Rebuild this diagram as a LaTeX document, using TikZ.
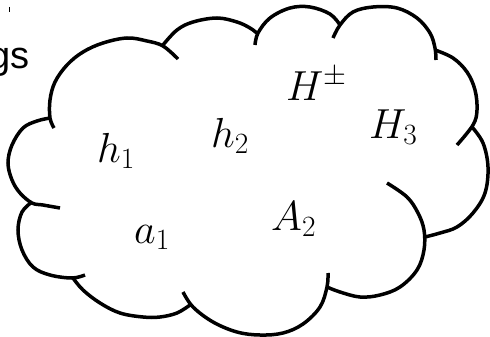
\RequirePackage{fix-cm}
\documentclass[tikz,border=0pt]{standalone}
\usepackage{fontspec}
\newfontfamily\labelsans{Liberation Sans}
\begin{document}
\begin{tikzpicture}[x=1pt,y=-1pt,
  lobe/.style={line width=3.5pt, smooth, tension=0.6},
  mathlabel/.style={anchor=base west, inner sep=0pt, font=\fontsize{42}{50}\selectfont}]
\useasboundingbox (0,0) rectangle (490,337);
% lobes of the cloud
\draw[lobe] plot coordinates {(54,128) (50,118) (50,100) (55,82) (67,65) (83,52) (103,43) (127,38) (147,41) (163,46) (178,59)};
\draw[lobe] plot coordinates {(163,45) (177,30) (193,22) (217,18) (237,22) (250,28) (258,34)};
\draw[lobe] plot coordinates {(255,45) (258,33) (270,18) (290,8) (310,7) (330,14) (340,25)};
\draw[lobe] plot coordinates {(333,38) (340,25) (353,12) (373,7) (397,8) (417,18) (430,33) (435,48) (436,60)};
\draw[lobe] plot coordinates {(435,50) (453,58) (467,72) (475,90) (477,110) (473,125) (457,145)};
\draw[lobe] plot coordinates {(472,127) (483,143) (488,167) (485,193) (473,213) (457,227) (440,233) (425,237)};
\draw[lobe] plot coordinates {(387,183) (407,197) (418,213) (424,230) (424,250) (417,270) (400,287) (380,295) (360,297) (340,292) (327,287)};
\draw[lobe] plot coordinates {(328,273) (327,287) (320,307) (303,324) (283,333) (260,335) (237,332) (213,322) (193,307) (183,292)};
\draw[lobe] plot coordinates {(190,305) (177,313) (160,317) (143,317) (120,313) (100,303) (83,290) (73,278)};
\draw[lobe] plot coordinates {(32,202) (22,212) (18,230) (22,250) (33,267) (50,275) (72,278) (85,275)};
\draw[lobe] plot coordinates {(60,208) (43,205) (32,203) (20,193) (12,180) (8,163) (12,145) (23,128) (37,121) (50,118)};
% small tick at top left
\draw[line width=1pt] (9,7) -- (9,12);
% labels
\node[mathlabel] (h1) at (97,162) {$h_1$};
\node[mathlabel] (h2) at (211,147) {$h_2$};
\node[mathlabel] (Hpm) at (286,100) {$H^\pm$};
\node[mathlabel] (H3) at (369,138) {$H_3$};
\node[mathlabel] (a1) at (134,243) {$a_1$};
\node[mathlabel] (A2) at (271,230) {$A_2$};
\node[anchor=base east, inner sep=0pt, font=\labelsans\fontsize{38}{46}\selectfont] (gs) at (30,69) {gs};
\end{tikzpicture}
\end{document}
